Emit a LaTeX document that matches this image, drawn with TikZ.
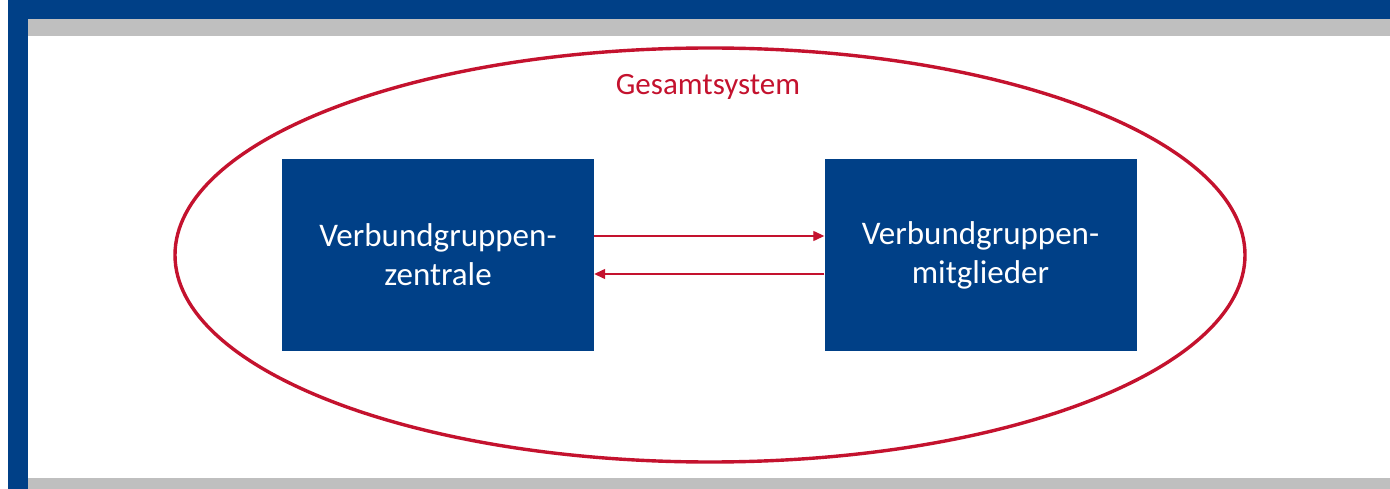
\documentclass[tikz,border=0pt]{standalone}
\usepackage{fontspec}
\setmainfont{Carlito}
\usetikzlibrary{arrows.meta}
\definecolor{dblue}{RGB}{0,64,135}
\definecolor{dred}{RGB}{196,18,46}
\definecolor{lgray}{RGB}{191,191,191}
\tikzset{
  x=1pt,y=-1pt,
  unit/.style={fill=dblue,draw=none,text=white,minimum width=312pt,minimum height=192pt,inner sep=0pt,align=center,font=\fontsize{33}{39}\selectfont},
  flow/.style={draw=dred,line width=1.3pt,-{Triangle[length=11pt,width=10pt]}}
}
\begin{document}
\begin{tikzpicture}
\useasboundingbox (0,0) rectangle (1390,489);
\fill[white] (0,0) rectangle (1390,489);
% frame
\fill[dblue] (8,0) rectangle (1390,19);
\fill[dblue] (8,0) rectangle (28,489);
\fill[lgray] (28,19) rectangle (1390,36);
\fill[lgray] (28,478) rectangle (1390,489);
% system ellipse
\draw[dred,line width=3.4pt] (710,255) ellipse[x radius=535,y radius=207];
\node[text=dred,font=\fontsize{31}{36}\selectfont,anchor=base] (sys) at (708,95) {Gesamtsystem};
% units
\node[unit] (z) at (438,255) {Verbundgruppen-\\zentrale};
\node[unit] (m) at (980.5,255) {Verbundgruppen-\\mitglieder};
\draw[flow] ([yshift=19pt]z.east) -- ([yshift=19pt]m.west);
\draw[flow] ([yshift=-19pt]m.west) -- ([yshift=-19pt]z.east);
\end{tikzpicture}
\end{document}
